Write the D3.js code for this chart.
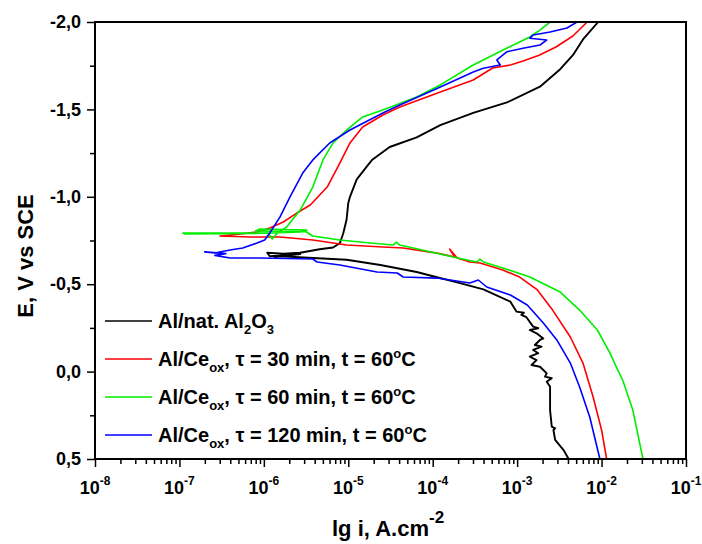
<!DOCTYPE html>
<html><head><meta charset="utf-8">
<script src="https://cdn.jsdelivr.net/npm/d3@7"></script>
<style>
html,body{margin:0;padding:0;background:#fff;}
svg{display:block;font-family:Arial,"Liberation Sans",sans-serif;font-weight:bold;}
</style></head>
<body><svg id="c" width="702" height="544"></svg>
<script>
// ---- data: [lg i (A/cm2), E (V vs SCE)] ----
const alNat = [[-2.04,-2.00],[-2.22,-1.90],[-2.34,-1.81],[-2.49,-1.73],[-2.73,-1.63],[-3.12,-1.54],[-3.52,-1.48],[-3.91,-1.41],[-4.19,-1.34],[-4.51,-1.285],[-4.72,-1.21],[-4.77,-1.18],[-4.90,-1.10],[-4.98,-1.00],[-5.00,-0.965],[-5.02,-0.87],[-5.06,-0.79],[-5.10,-0.735],[-5.18,-0.71],[-5.34,-0.70],[-5.57,-0.68],[-5.77,-0.675],[-5.96,-0.68],[-5.93,-0.66],[-5.57,-0.672],[-5.75,-0.662],[-5.87,-0.655],[-5.80,-0.66],[-5.42,-0.65],[-5.02,-0.64],[-4.62,-0.61],[-4.19,-0.57],[-3.95,-0.54],[-3.71,-0.51],[-3.40,-0.47],[-3.08,-0.40],[-3.006,-0.343],[-2.92,-0.337],[-2.95,-0.324],[-2.89,-0.311],[-2.81,-0.257],[-2.75,-0.248],[-2.85,-0.238],[-2.77,-0.219],[-2.69,-0.190],[-2.73,-0.181],[-2.79,-0.152],[-2.71,-0.143],[-2.81,-0.124],[-2.75,-0.105],[-2.85,-0.085],[-2.77,-0.066],[-2.83,-0.038],[-2.73,-0.028],[-2.69,-0.009],[-2.65,0.010],[-2.67,0.029],[-2.59,0.038],[-2.65,0.058],[-2.61,0.086],[-2.61,0.220],[-2.59,0.315],[-2.55,0.325],[-2.57,0.334],[-2.55,0.391],[-2.45,0.449],[-2.39,0.50]];
const ce30 = [[-2.17,-2.00],[-2.34,-1.92],[-2.54,-1.857],[-2.74,-1.81],[-2.93,-1.777],[-3.08,-1.754],[-3.29,-1.737],[-3.52,-1.668],[-3.91,-1.60],[-4.39,-1.514],[-4.59,-1.468],[-4.83,-1.399],[-4.98,-1.308],[-5.10,-1.193],[-5.25,-1.056],[-5.45,-0.953],[-5.61,-0.907],[-5.77,-0.856],[-5.93,-0.821],[-6.08,-0.799],[-6.28,-0.787],[-6.52,-0.776],[-6.16,-0.770],[-5.81,-0.770],[-5.42,-0.753],[-5.02,-0.724],[-4.59,-0.713],[-4.35,-0.707],[-3.95,-0.678],[-3.74,-0.656],[-3.80,-0.701],[-3.71,-0.650],[-3.56,-0.627],[-3.44,-0.621],[-3.17,-0.581],[-2.97,-0.541],[-2.76,-0.467],[-2.58,-0.352],[-2.37,-0.198],[-2.22,-0.049],[-2.10,0.145],[-2.00,0.334],[-1.94,0.50]];
const ce60 = [[-2.61,-2.00],[-2.73,-1.954],[-2.85,-1.914],[-3.12,-1.851],[-3.52,-1.754],[-3.91,-1.640],[-4.19,-1.571],[-4.59,-1.497],[-4.83,-1.457],[-5.02,-1.382],[-5.18,-1.308],[-5.30,-1.211],[-5.42,-1.056],[-5.57,-0.924],[-5.73,-0.827],[-5.84,-0.793],[-5.90,-0.759],[-5.95,-0.793],[-6.40,-0.793],[-6.96,-0.793],[-6.93,-0.787],[-6.16,-0.790],[-5.57,-0.799],[-5.49,-0.810],[-6.05,-0.816],[-6.10,-0.805],[-5.50,-0.800],[-5.42,-0.776],[-5.10,-0.753],[-4.74,-0.736],[-4.47,-0.724],[-4.43,-0.741],[-4.39,-0.724],[-3.76,-0.656],[-3.48,-0.627],[-3.44,-0.644],[-3.40,-0.627],[-3.17,-0.593],[-2.85,-0.541],[-2.49,-0.455],[-2.26,-0.352],[-2.05,-0.238],[-1.90,-0.106],[-1.82,-0.021],[-1.75,0.048],[-1.63,0.220],[-1.51,0.50]];
const ce120 = [[-2.29,-2.00],[-2.41,-1.966],[-2.61,-1.943],[-2.81,-1.926],[-2.85,-1.907],[-2.65,-1.897],[-2.73,-1.868],[-2.93,-1.850],[-3.12,-1.830],[-3.24,-1.783],[-3.20,-1.754],[-3.40,-1.735],[-3.52,-1.714],[-3.91,-1.628],[-4.39,-1.525],[-4.59,-1.479],[-4.98,-1.382],[-5.22,-1.308],[-5.42,-1.211],[-5.54,-1.136],[-5.69,-0.999],[-5.81,-0.884],[-5.93,-0.793],[-5.99,-0.753],[-6.08,-0.736],[-6.25,-0.707],[-6.40,-0.696],[-6.58,-0.679],[-6.70,-0.685],[-6.45,-0.675],[-6.58,-0.665],[-6.40,-0.650],[-6.05,-0.650],[-5.42,-0.644],[-5.37,-0.627],[-5.10,-0.610],[-4.66,-0.570],[-4.42,-0.564],[-4.35,-0.541],[-3.95,-0.535],[-3.56,-0.507],[-3.46,-0.524],[-3.36,-0.484],[-3.08,-0.438],[-2.88,-0.381],[-2.69,-0.278],[-2.53,-0.181],[-2.37,-0.049],[-2.26,0.088],[-2.14,0.260],[-2.02,0.50]];

const seriesData = [alNat, ce30, ce60, ce120];
const seriesColors = ["#000000", "#ff0000", "#00ee00", "#0000ff"];
const seriesTau = [null, "30", "60", "120"];
const yTicks = [-2.0, -1.5, -1.0, -0.5, 0.0, 0.5];
const xExponents = [-8, -7, -6, -5, -4, -3, -2, -1];

// ---- layout ----
const L = 95, R = 686, T = 22, B = 459;
const svg = d3.select("#c");
const x = d3.scaleLog().domain([1e-8, 1e-1]).range([L, R]);
const y = d3.scaleLinear().domain([-2, 0.5]).range([T, B]);

svg.append("defs").append("clipPath").attr("id", "clip")
  .append("rect").attr("x", L).attr("y", T).attr("width", R - L).attr("height", B - T);

// curves
const line = d3.line().x(d => x(Math.pow(10, d[0]))).y(d => y(d[1]));
const g = svg.append("g").attr("clip-path", "url(#clip)");
seriesData.forEach((s, i) => {
  g.append("path").attr("d", line(s)).attr("fill", "none")
    .attr("stroke", seriesColors[i]).attr("stroke-width", i === 0 ? 1.9 : 1.6)
    .attr("stroke-linejoin", "round");
});

// frame
svg.append("rect").attr("x", L).attr("y", T).attr("width", R - L).attr("height", B - T)
  .attr("fill", "none").attr("stroke", "#000").attr("stroke-width", 2);

// y axis
const yMinor = d3.range(-1.75, 0.5, 0.5);
svg.append("g").attr("transform", `translate(${L},0)`)
  .call(d3.axisLeft(y).tickValues(yMinor).tickSize(5).tickFormat("").tickSizeOuter(0))
  .call(a => { a.select(".domain").remove(); a.selectAll("line").attr("stroke-width", 1.5); });
svg.append("g").attr("transform", `translate(${L},0)`)
  .call(d3.axisLeft(y).tickValues(yTicks).tickSize(8).tickPadding(6).tickSizeOuter(0)
    .tickFormat(d => d.toFixed(1).replace(".", ",")))
  .call(a => {
    a.select(".domain").remove();
    a.selectAll("line").attr("stroke-width", 1.5);
    a.selectAll("text").attr("font-size", 18).attr("font-weight", "bold")
      .attr("font-family", "Arial, 'Liberation Sans', sans-serif").attr("fill", "#000");
  });

// x axis
const xMajor = xExponents.map(e => Math.pow(10, e));
const xMinor = [];
xExponents.slice(0, -1).forEach(e => { for (let k = 2; k <= 9; k++) xMinor.push(k * Math.pow(10, e)); });
svg.append("g").attr("transform", `translate(0,${B})`)
  .call(d3.axisBottom(x).tickValues(xMinor).tickSize(5).tickFormat("").tickSizeOuter(0))
  .call(a => { a.select(".domain").remove(); a.selectAll("line").attr("stroke-width", 1.5); });
svg.append("g").attr("transform", `translate(0,${B})`)
  .call(d3.axisBottom(x).tickValues(xMajor).tickSize(8).tickFormat("").tickSizeOuter(0))
  .call(a => { a.select(".domain").remove(); a.selectAll("line").attr("stroke-width", 1.5); });
const xl = svg.append("g");
xExponents.forEach(e => {
  const t = xl.append("text").attr("x", x(Math.pow(10, e))).attr("y", B + 35)
    .attr("text-anchor", "middle").attr("font-size", 18);
  t.append("tspan").text("10");
  t.append("tspan").attr("font-size", 12).attr("dy", -9).text(String(e));
});

// axis titles
const xt = svg.append("text").attr("x", 332).attr("y", 536).attr("text-anchor", "start").attr("font-size", 22);
xt.append("tspan").text("lg i, A.cm");
xt.append("tspan").attr("font-size", 17).attr("dy", -13).text("-2");
svg.append("text").attr("transform", "translate(33,256) rotate(-90)")
  .attr("text-anchor", "middle").attr("font-size", 22).text("E, V vs SCE");

// legend
const lg = svg.append("g");
seriesData.forEach((s, i) => {
  const yy = 321 + i * 38;
  lg.append("line").attr("x1", 105).attr("x2", 152).attr("y1", yy).attr("y2", yy)
    .attr("stroke", seriesColors[i]).attr("stroke-width", 1.6);
  const t = lg.append("text").attr("x", 158).attr("y", yy + 7).attr("font-size", 20);
  if (seriesTau[i] === null) {
    t.append("tspan").text("Al/nat. Al");
    t.append("tspan").attr("font-size", 13).attr("dy", 6).text("2");
    t.append("tspan").attr("dy", -6).text("O");
    t.append("tspan").attr("font-size", 13).attr("dy", 6).text("3");
  } else {
    t.append("tspan").text("Al/Ce");
    t.append("tspan").attr("font-size", 13).attr("dy", 6).text("ox");
    t.append("tspan").attr("dy", -6).text(", τ = " + seriesTau[i] + " min, t = 60");
    t.append("tspan").attr("font-size", 13).attr("dy", -8).text("o");
    t.append("tspan").attr("dy", 8).text("C");
  }
});
</script></body></html>
